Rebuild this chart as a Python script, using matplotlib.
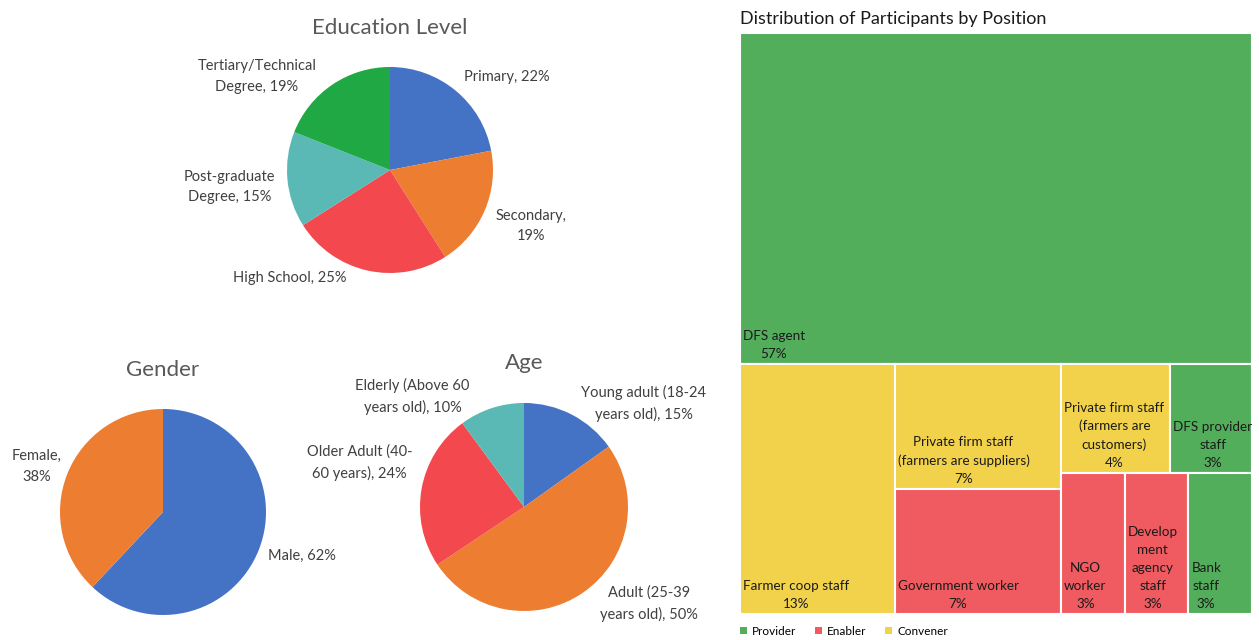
import matplotlib
matplotlib.use("Agg")
import matplotlib.pyplot as plt
from matplotlib.patches import Rectangle, Patch
import numpy as np

plt.rcParams['font.family'] = ['Lato', 'DejaVu Sans']

# ---------------- data ----------------
edu_labels = ["Primary, {}%", "Secondary,\n{}%", "High School, {}%",
              "Post-graduate\nDegree, {}%", "Tertiary/Technical\nDegree, {}%"]
edu_values = [22, 19, 25, 15, 19]

gender_labels = ["Male, {}%", "Female,\n{}%"]
gender_values = [62, 38]

age_labels = ["Young adult (18-24\nyears old), {}%", "Adult (25-39\nyears old), {}%",
              "Older Adult (40-\n60 years), {}%", "Elderly (Above 60\nyears old), {}%"]
age_values = [15, 50, 24, 10]

pos_labels = ["DFS agent", "Farmer coop staff", "Private firm staff\n(farmers are suppliers)",
              "Government worker", "Private firm staff\n(farmers are\ncustomers)",
              "DFS provider\nstaff", "NGO\nworker", "Develop\nment\nagency\nstaff", "Bank\nstaff"]
pos_values = [57, 13, 7, 7, 4, 3, 3, 3, 3]
pos_groups = ["Provider", "Convener", "Convener", "Enabler", "Convener",
              "Provider", "Enabler", "Enabler", "Provider"]
group_names = ["Provider", "Enabler", "Convener"]

# ---------------- styles ----------------
pie_colors5 = ["#4472C4", "#ED7D31", "#F2484E", "#5BB9B5", "#1FA844"]
pie_colors2 = ["#4472C4", "#ED7D31"]
pie_colors4 = ["#4472C4", "#ED7D31", "#F2484E", "#5BB9B5"]
group_colors = {"Provider": "#53AE5B", "Enabler": "#EF5B60", "Convener": "#F2D24A"}

W, H = 1259, 640
fig = plt.figure(figsize=(W / 100, H / 100), dpi=100)

LABEL_COLOR = "#404040"
TITLE_COLOR = "#595959"


def pie_axes(cx, cy, r):
    return fig.add_axes([(cx - r) / W, (H - cy - r) / H, 2 * r / W, 2 * r / H])


def draw_pie(cx, cy, r, values, labels, colors, title, nudges, dist=1.12):
    ax = pie_axes(cx, cy, r)
    wedges, _ = ax.pie(values, colors=colors, startangle=90, counterclock=False,
                       radius=1, wedgeprops=dict(linewidth=0))
    ax.set_xlim(-1, 1)
    ax.set_ylim(-1, 1)
    ax.set_aspect('equal')
    ax.axis('off')
    for w, lab, v, (nx, ny) in zip(wedges, labels, values, nudges):
        th = np.deg2rad((w.theta1 + w.theta2) / 2)
        x, y = dist * np.cos(th), dist * np.sin(th)
        ha = 'left' if np.cos(th) >= 0 else 'right'
        ax.annotate(lab.format(v), xy=(x, y), xytext=(nx * 0.72, -ny * 0.72),
                    textcoords='offset points', ha=ha, va='center',
                    multialignment='center', fontsize=10.5, color=LABEL_COLOR,
                    linespacing=1.6, annotation_clip=False)
    ax.text(0, 1.38, title, ha='center', va='center', fontsize=16, color=TITLE_COLOR)
    return ax


draw_pie(390, 170, 103, edu_values, edu_labels, pie_colors5, "Education Level",
         [(0, -4), (0, 10), (-18, -5), (0, 6), (-9, 2)])
draw_pie(163, 512, 103, gender_values, gender_labels, pie_colors2, "Gender",
         [(-2, 1), (6, -3)])
draw_pie(524, 507, 104, age_values, age_labels, pie_colors4, "Age",
         [(4, 0), (10, 1), (3, -24), (-18, 0)])

# ---------------- treemap ----------------
tx0, ty0, tx1, ty1 = 740, 33, 1252, 614
tax = fig.add_axes([tx0 / W, (H - ty1) / H, (tx1 - tx0) / W, (ty1 - ty0) / H])
tax.set_xlim(0, 1)
tax.set_ylim(0, 1)
tax.axis('off')

# split tree: even depth stacks top-to-bottom, odd depth left-to-right
split_tree = [0, [1, [2, 3], [[4, 5], [6, 7, 8]]]]


def node_total(node):
    if isinstance(node, int):
        return pos_values[node]
    return sum(node_total(c) for c in node)


def layout(node, x, y, w, h, depth, out):
    if isinstance(node, int):
        out[node] = (x, y, w, h)
        return
    s = node_total(node)
    if depth % 2 == 0:
        top = y + h
        for c in node:
            ch = h * node_total(c) / s
            layout(c, x, top - ch, w, ch, depth + 1, out)
            top -= ch
    else:
        left = x
        for c in node:
            cw = w * node_total(c) / s
            layout(c, left, y, cw, h, depth + 1, out)
            left += cw


rects = {}
layout(split_tree, 0, 0, 1, 1, 0, rects)
for i, (x, y, w, h) in rects.items():
    tax.add_patch(Rectangle((x, y), w, h, facecolor=group_colors[pos_groups[i]],
                            edgecolor='white', linewidth=1.5))
    tax.annotate(f"{pos_labels[i]}\n{pos_values[i]}%", xy=(x, y), xytext=(2, 3),
                 textcoords='offset points', ha='left', va='bottom',
                 multialignment='center', fontsize=9.7, color='#1a1a1a',
                 linespacing=1.6, annotation_clip=False)

tax.text(0, 1 + 14 / (ty1 - ty0), "Distribution of Participants by Position",
         ha='left', va='center', fontsize=13, color='#1a1a1a')

handles = [Patch(facecolor=group_colors[g], edgecolor='none', label=g) for g in group_names]
tax.legend(handles=handles, loc='upper left', bbox_to_anchor=(0.0, -0.02), ncol=3,
           frameon=False, fontsize=8.5, handlelength=0.6, handleheight=0.6,
           handletextpad=0.4, columnspacing=1.6, borderaxespad=0, borderpad=0)

fig.savefig("out.png", dpi=100)
